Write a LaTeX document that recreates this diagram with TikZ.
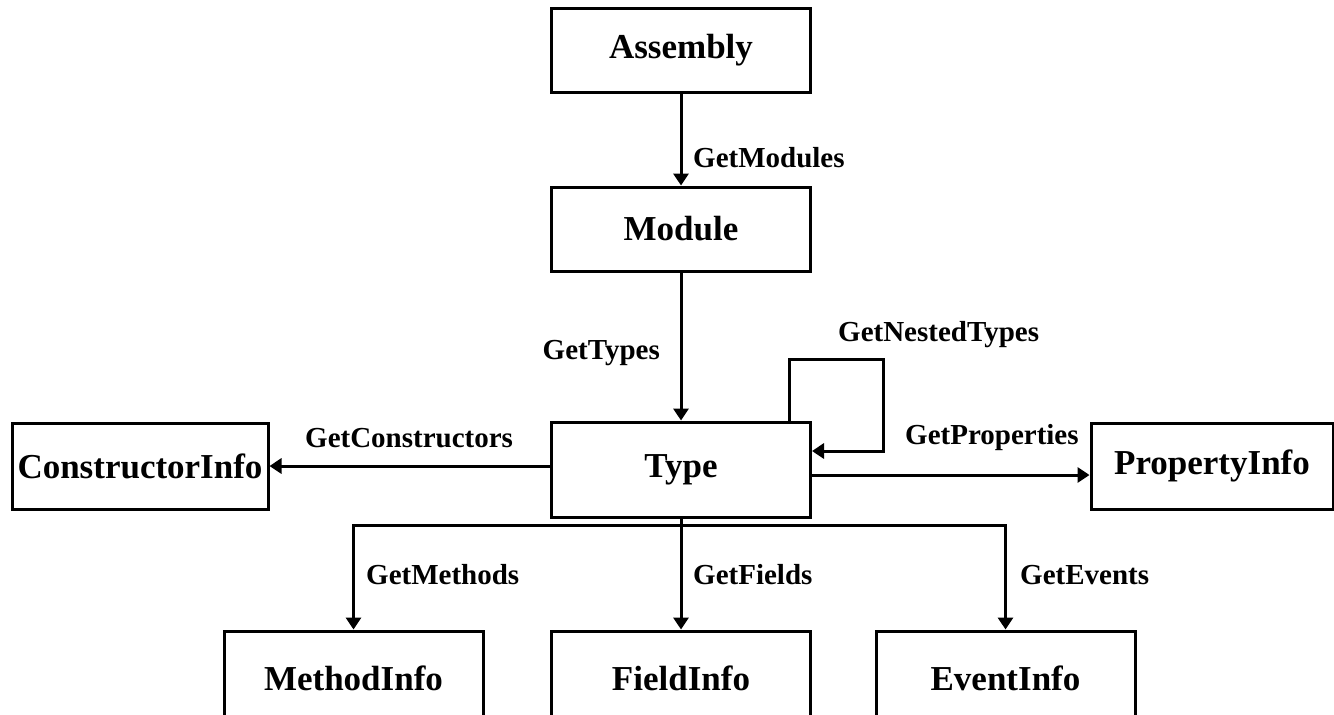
\documentclass[tikz,border=0pt]{standalone}
\usepackage{fontspec}
\setmainfont{Liberation Serif}
\usetikzlibrary{arrows.meta}
\tikzset{
  box/.style={draw, line width=3pt, rectangle, inner sep=0pt, font=\fontsize{35}{40}\selectfont\bfseries},
  lbl/.style={inner sep=0pt, font=\fontsize{29}{33}\selectfont\bfseries},
  arr/.style={line width=3pt, -{Triangle[width=15pt,length=12pt]}},
  ln/.style={line width=3pt}
}
\begin{document}
\begin{tikzpicture}[x=1pt,y=-1pt]
\useasboundingbox (0,0) rectangle (1334,715);
\clip (0,0) rectangle (1334,715);
\fill[white] (0,0) rectangle (1334,715);
% boxes
\node[box, minimum width=259pt, minimum height=84pt] (asm) at (681,50) {Assembly};
\node[box, minimum width=259pt, minimum height=84pt] (mod) at (681,229) {Module};
\node[box, minimum width=259pt, minimum height=95pt] (type) at (681,469.5) {Type};
\node[box, minimum width=256pt, minimum height=86pt] (ctor) at (140,466) {ConstructorInfo};
\node[box, minimum width=242pt, minimum height=86pt] (prop) at (1212,466) {PropertyInfo};
\node[box, minimum width=259pt, minimum height=95pt] (meth) at (353.5,678.5) {MethodInfo};
\node[box, minimum width=259pt, minimum height=95pt] (field) at (681,678.5) {FieldInfo};
\node[box, minimum width=259pt, minimum height=95pt] (event) at (1005.5,678.5) {EventInfo};
% connectors
\draw[arr] (asm.south) -- (mod.north);
\draw[arr] (mod.south) -- (type.north);
\coordinate (loopstart) at ([xshift=-23pt]type.north east);
\coordinate (loopcorner) at (883,359);
\coordinate (loopend) at ([yshift=18.5pt]type.east);
\draw[arr] (loopstart) |- (loopcorner) |- (loopend);
\draw[arr] (type.west |- ctor.east) -- (ctor.east);
\coordinate (pe) at ([yshift=-5.5pt]type.east);
\draw[arr] (pe) -- (pe -| prop.west);
\draw[arr] (type.south) -- (field.north);
\coordinate (fork) at ([yshift=-7pt]type.south);
\draw[arr] (fork) -| (meth.north);
\draw[arr] (fork) -| (event.north);
% labels
\node[lbl, anchor=west] (l1) at (693,158) {GetModules};
\node[lbl, anchor=east] (l2) at (660,353) {GetTypes};
\node[lbl, anchor=west] (l3) at (838,335) {GetNestedTypes};
\node[lbl, anchor=west] (l4) at (305,438) {GetConstructors};
\node[lbl, anchor=west] (l5) at (905,438) {GetProperties};
\node[lbl, anchor=west] (l6) at (366,575) {GetMethods};
\node[lbl, anchor=west] (l7) at (693,575) {GetFields};
\node[lbl, anchor=west] (l8) at (1020,575) {GetEvents};
\end{tikzpicture}
\end{document}
